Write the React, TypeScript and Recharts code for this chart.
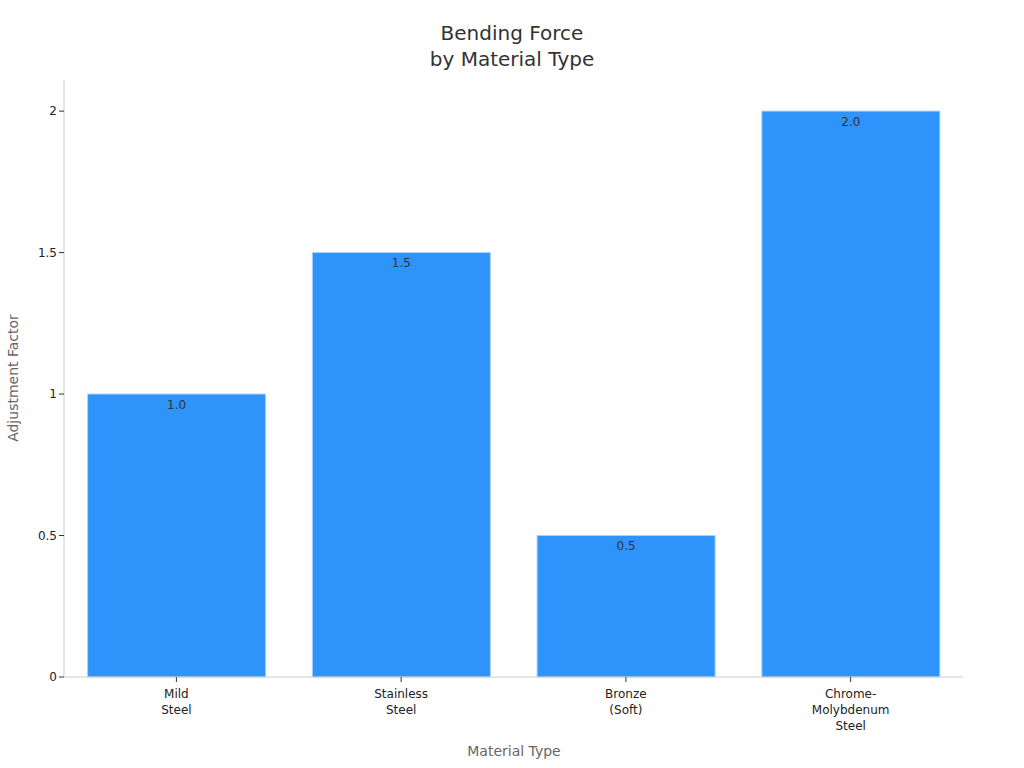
import { Bar, BarChart, LabelList, XAxis, YAxis, Label } from "recharts";

const materials = ["Mild\nSteel", "Stainless\nSteel", "Bronze\n(Soft)", "Chrome-\nMolybdenum\nSteel"];
const factors = [1.0, 1.5, 0.5, 2.0];
const yTicks = [0, 0.5, 1, 1.5, 2];

const data = materials.map((name, i) => ({ name, factor: factors[i] }));

const FONT = "DejaVu Sans, sans-serif";

function MultiLineTick(props: any) {
  const { x, y, payload } = props;
  const lines = String(payload.value).split("\n");
  return (
    <g transform={`translate(${x},${y})`}>
      {lines.map((line: string, i: number) => (
        <text key={i} x={0} y={14 + i * 16} textAnchor="middle" fill="#222" fontSize={12} fontFamily={FONT}>
          {line}
        </text>
      ))}
    </g>
  );
}

export default function App() {
  return (
    <div style={{ position: "absolute", left: 0, top: 0, width: 1024, height: 768, background: "#fff" }}>
      <div
        style={{
          position: "absolute",
          left: 0,
          top: 20,
          width: 1024,
          textAlign: "center",
          fontFamily: FONT,
          fontSize: 20,
          lineHeight: "26px",
          color: "#333",
        }}
      >
        Bending Force
        <br />
        by Material Type
      </div>
      <BarChart
        width={1024}
        height={768}
        data={data}
        margin={{ top: 80, right: 61, bottom: 0, left: 0 }}
        barCategoryGap="10.5%"
      >
        <XAxis
          dataKey="name"
          height={91}
          interval={0}
          stroke="#ccc"
          tickLine={{ stroke: "#333" }}
          tickSize={5}
          tick={<MultiLineTick />}
        >
          <Label
            content={() => (
              <text x={514} y={756} textAnchor="middle" fill="#666" fontSize={14} fontFamily={FONT}>
                Material Type
              </text>
            )}
          />
        </XAxis>
        <YAxis
          width={64}
          domain={[0, 2.11]}
          ticks={yTicks}
          stroke="#ccc"
          tickLine={{ stroke: "#333" }}
          tickSize={5}
          tick={{ fill: "#222", fontSize: 12, fontFamily: FONT }}
          tickFormatter={(v: number) => String(v)}
        >
          <Label
            content={() => (
              <text
                x={18}
                y={378}
                textAnchor="middle"
                fill="#666"
                fontSize={14}
                fontFamily={FONT}
                transform="rotate(-90 18 378)"
              >
                Adjustment Factor
              </text>
            )}
          />
        </YAxis>
        <Bar dataKey="factor" fill="#2e93fa" stroke="#a9d1fb" strokeWidth={1} isAnimationActive={false}>
          <LabelList
            dataKey="factor"
            position="insideTop"
            offset={6}
            formatter={(v: any) => Number(v).toFixed(1)}
            fill="#333"
            fontSize={12}
            fontFamily={FONT}
          />
        </Bar>
      </BarChart>
    </div>
  );
}
